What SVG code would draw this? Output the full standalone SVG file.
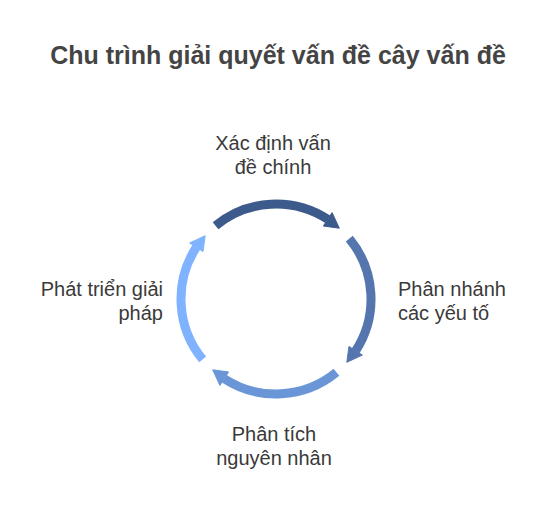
<svg xmlns="http://www.w3.org/2000/svg" width="541" height="517" viewBox="0 0 541 517">
<style>
.t{font-family:"Liberation Sans",Arial,sans-serif;font-size:20px;fill:#3a3a3a}
.title{font-family:"Liberation Sans",Arial,sans-serif;font-size:25px;font-weight:bold;fill:#444}
.arc{fill:none;stroke-width:9;stroke-linecap:butt}
</style>
<defs>
<g id="seg">
<path class="arc" d="M215.57,225.70 A95,95 0 0 1 327.74,219.33"/>
<polygon points="323.38,226.03 332.09,212.61 339.3,228.2"/>
</g>
</defs>
<rect width="541" height="517" fill="#fff"/>
<text class="title" x="278" y="64" text-anchor="middle">Chu trình giải quyết vấn đề cây vấn đề</text>
<g id="connectors">
<use href="#seg" stroke="#3d5a8c" fill="#3d5a8c"/>
<use href="#seg" stroke="#5475ad" fill="#5475ad" transform="rotate(90 276 299)"/>
<use href="#seg" stroke="#6a96d8" fill="#6a96d8" transform="rotate(180 276 299)"/>
<use href="#seg" stroke="#7fb2ff" fill="#7fb2ff" transform="rotate(270 276 299)"/>
</g>
<g id="node-top">
<text class="t" x="273" y="150" text-anchor="middle">Xác định vấn</text>
<text class="t" x="273" y="174" text-anchor="middle">đề chính</text>
</g>
<g id="node-right">
<text class="t" x="398" y="296">Phân nhánh</text>
<text class="t" x="398" y="320">các yếu tố</text>
</g>
<g id="node-bottom">
<text class="t" x="274" y="441" text-anchor="middle">Phân tích</text>
<text class="t" x="274" y="465" text-anchor="middle">nguyên nhân</text>
</g>
<g id="node-left">
<text class="t" x="163" y="296" text-anchor="end">Phát triển giải</text>
<text class="t" x="163" y="320" text-anchor="end">pháp</text>
</g>
</svg>
